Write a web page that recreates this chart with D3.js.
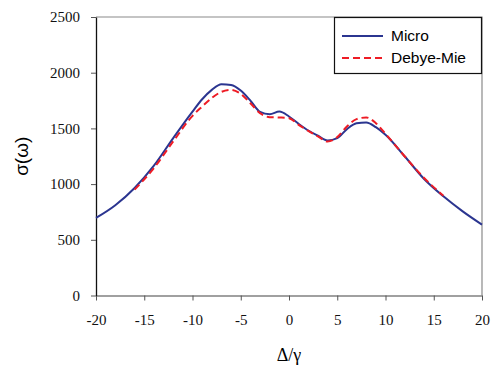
<!DOCTYPE html>
<html>
<head>
<meta charset="utf-8">
<script src="https://cdn.jsdelivr.net/npm/d3@7"></script>
<style>
  body { margin: 0; background: #fff; }
  svg { display: block; }
  .serif { font-family: "Liberation Serif", "Times New Roman", serif; }
  .sans { font-family: "Liberation Sans", Arial, sans-serif; }
</style>
</head>
<body>
<svg></svg>
<script>
const xTicks = [-20, -15, -10, -5, 0, 5, 10, 15, 20];
const yTicks = [0, 500, 1000, 1500, 2000, 2500];

const microX = [-20, -18, -16, -14, -12, -10, -9, -8, -7, -6, -5, -4, -3, -2, -1, 0, 1, 2, 3, 4, 5, 6, 7, 8, 9, 10, 12, 14, 16, 18, 20];
const microY = [696, 810, 965, 1165, 1413, 1651, 1762, 1846, 1897, 1890, 1840, 1750, 1649, 1628, 1651, 1607, 1541, 1481, 1434, 1392, 1413, 1493, 1547, 1553, 1511, 1442, 1248, 1046, 890, 755, 636];

const debyeX = [-16, -14, -12, -10, -9, -8, -7, -6, -5, -4, -3, -2, -1, 0, 1, 2, 3, 4, 5, 6, 7, 8, 9, 10, 12, 14, 16];
const debyeY = [950, 1144, 1383, 1613, 1696, 1774, 1828, 1846, 1810, 1726, 1637, 1601, 1598, 1592, 1532, 1478, 1428, 1383, 1422, 1517, 1583, 1598, 1547, 1451, 1248, 1055, 895];

const width = 494, height = 372;
const margin = { top: 17, right: 12, bottom: 76, left: 96 };

const svg = d3.select("svg").attr("width", width).attr("height", height);

const x = d3.scaleLinear().domain([-20, 20]).range([margin.left, width - margin.right]);
const y = d3.scaleLinear().domain([0, 2500]).range([height - margin.bottom - 0.5, margin.top]);

// plot frame: top and right grey
svg.append("path")
    .attr("d", `M${x(-20)},${y(2500)}H${x(20)}V${y(0)}`)
    .attr("fill", "none")
    .attr("stroke", "#8a8a8a")
    .attr("stroke-width", 1.2);

const xAxis = svg.append("g")
    .attr("transform", `translate(0,${y(0)})`)
    .call(d3.axisBottom(x).tickValues(xTicks).tickFormat(d => String(d))
        .tickSize(5).tickPadding(14).tickSizeOuter(0));
xAxis.attr("font-family", null).attr("font-size", null);
xAxis.select(".domain").attr("stroke", "#808080").attr("stroke-width", 1.5);
xAxis.selectAll(".tick line").attr("stroke", "#555").attr("y2", 5);
xAxis.selectAll("text").attr("class", "serif")
    .style("font-size", "15px").attr("fill", "#111");

const yAxis = svg.append("g")
    .attr("transform", `translate(${x(-20)},0)`)
    .call(d3.axisLeft(y).tickValues(yTicks).tickFormat(d => String(d))
        .tickSize(5).tickPadding(11).tickSizeOuter(0));
yAxis.attr("font-family", null).attr("font-size", null);
yAxis.select(".domain").attr("stroke", "#111").attr("stroke-width", 1.3);
yAxis.selectAll(".tick line").attr("stroke", "#555");
yAxis.selectAll("text").attr("class", "serif")
    .style("font-size", "15px").attr("fill", "#111");

const line = d3.line()
    .x(d => x(d[0]))
    .y(d => y(d[1]))
    .curve(d3.curveMonotoneX);

svg.append("path")
    .datum(d3.zip(microX, microY))
    .attr("d", line)
    .attr("fill", "none")
    .attr("stroke", "#2b3590")
    .attr("stroke-width", 2);

svg.append("path")
    .datum(d3.zip(debyeX, debyeY))
    .attr("d", line)
    .attr("fill", "none")
    .attr("stroke", "#ee1c25")
    .attr("stroke-width", 2)
    .attr("stroke-dasharray", "7,4");

// axis titles
svg.append("text")
    .attr("class", "sans")
    .attr("transform", `translate(28,${(y(0) + y(2500)) / 2}) rotate(-90)`)
    .attr("text-anchor", "middle")
    .style("font-size", "19px")
    .text("σ(ω)");

svg.append("text")
    .attr("class", "serif")
    .attr("x", x(0))
    .attr("y", 361)
    .attr("text-anchor", "middle")
    .style("font-size", "18px")
    .text("Δ/γ");

// legend
const lg = svg.append("g");
lg.append("rect")
    .attr("x", 334.5).attr("y", 17.5)
    .attr("width", 147).attr("height", 56)
    .attr("fill", "#fff").attr("stroke", "#111").attr("stroke-width", 1.2);

const legendItems = [
    { name: "Micro", color: "#2b3590", dash: null },
    { name: "Debye-Mie", color: "#ee1c25", dash: "7,4" }
];
legendItems.forEach((d, i) => {
    const cy = 36 + i * 22;
    lg.append("line")
        .attr("x1", 342).attr("x2", 383)
        .attr("y1", cy).attr("y2", cy)
        .attr("stroke", d.color).attr("stroke-width", 2)
        .attr("stroke-dasharray", d.dash);
    lg.append("text")
        .attr("class", "sans")
        .attr("x", 391).attr("y", cy)
        .attr("dy", "0.35em")
        .style("font-size", "15.5px")
        .text(d.name);
});
</script>
</body>
</html>
